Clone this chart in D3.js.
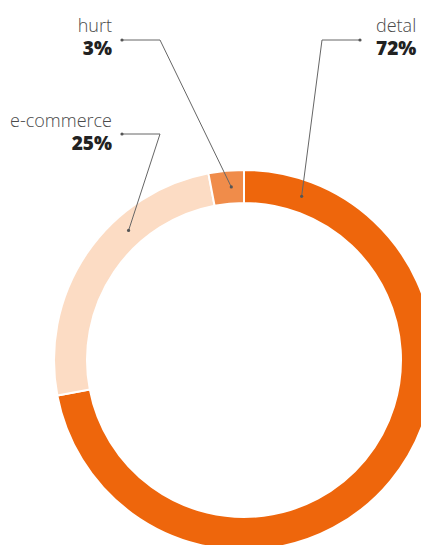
<!DOCTYPE html>
<html>
<head>
<meta charset="utf-8">
<script src="https://cdn.jsdelivr.net/npm/d3@7"></script>
<style>
  body { margin: 0; background: #fff; }
  svg { display: block; }
</style>
</head>
<body>
<div id="chart"></div>
<script>
// data
var categories = ["detal", "e-commerce", "hurt"];
var values = [72, 25, 3];
var valueLabels = ["72%", "25%", "3%"];

var colors = ["#ee660c", "#fcdcc4", "#f08c4a"];

var width = 421,
    height = 545;

var cx = 244, cy = 360,
    outerR = 190, innerR = 157;

var svg = d3.select("#chart")
  .append("svg")
  .attr("width", width)
  .attr("height", height);

var g = svg.append("g")
  .attr("transform", "translate(" + cx + "," + cy + ")");

var pie = d3.pie().sort(null).value(function(d) { return d; });
var arcs = pie(values);

var arc = d3.arc().innerRadius(innerR).outerRadius(outerR);

g.selectAll(".slice")
  .data(arcs)
  .enter().append("path")
  .attr("class", "slice")
  .attr("d", arc)
  .attr("fill", function(d, i) { return colors[i]; })
  .attr("stroke", "#fff")
  .attr("stroke-width", 2);

// label layout: where the leader hits the ring (angle in degrees), elbow and text position
var labelLayout = [
  { angle: 19.4, textX: 376, textY: 32, anchor: "start", dotX: 360, elbowX: 322, lineY: 40 },
  { angle: 318.3, textX: 112, textY: 127, anchor: "end", dotX: 122, elbowX: 160, lineY: 134 },
  { angle: 355.8, textX: 112, textY: 32, anchor: "end", dotX: 122, elbowX: 160, lineY: 40 }
];

var midR = (innerR + outerR) / 2;

var labels = svg.selectAll(".label")
  .data(arcs)
  .enter().append("g")
  .attr("class", "label");

labels.each(function(d, i) {
  var L = labelLayout[i];
  var a = L.angle * Math.PI / 180;
  var px = cx + midR * Math.sin(a),
      py = cy - midR * Math.cos(a);
  var sel = d3.select(this);

  sel.append("polyline")
    .attr("points", [[L.dotX, L.lineY], [L.elbowX, L.lineY], [px, py]].join(" "))
    .attr("fill", "none")
    .attr("stroke", "#666")
    .attr("stroke-width", 1);

  sel.append("circle").attr("cx", L.dotX).attr("cy", L.lineY).attr("r", 1.6).attr("fill", "#555");
  sel.append("circle").attr("cx", px).attr("cy", py).attr("r", 1.6).attr("fill", "#555");

  sel.append("text")
    .attr("x", L.textX)
    .attr("y", L.textY)
    .attr("text-anchor", L.anchor)
    .attr("font-family", "'Open Sans', sans-serif")
    .attr("font-weight", 300)
    .attr("font-size", 18)
    .attr("fill", "#4a4a4a")
    .text(categories[i]);

  sel.append("text")
    .attr("x", L.textX)
    .attr("y", L.textY + 23)
    .attr("text-anchor", L.anchor)
    .attr("font-family", "'Open Sans', sans-serif")
    .attr("font-weight", 800)
    .attr("font-size", 19)
    .attr("fill", "#222")
    .text(valueLabels[i]);
});
</script>
</body>
</html>
